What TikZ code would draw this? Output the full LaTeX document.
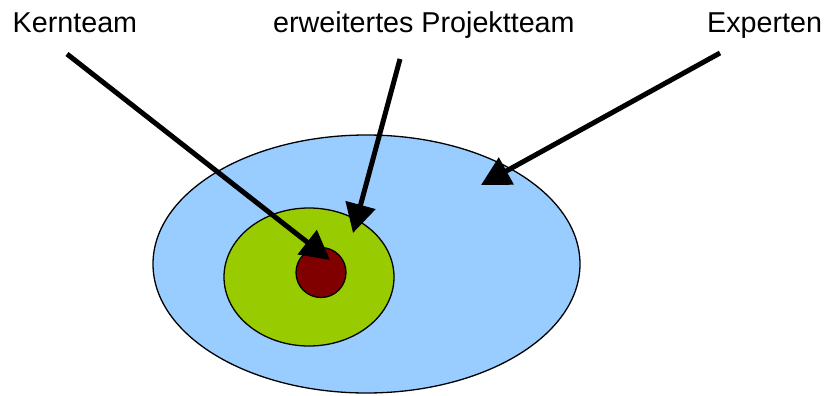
\documentclass[tikz,border=0pt]{standalone}
\usepackage{fontspec}
\setmainfont{Liberation Sans}
\usetikzlibrary{arrows.meta,shapes.geometric}
\definecolor{outerblue}{HTML}{99CCFF}
\definecolor{midgreen}{HTML}{99CC00}
\definecolor{corered}{HTML}{800000}
\begin{document}
\begin{tikzpicture}[x=1pt,y=-1pt,
  lbl/.style={anchor=base west,inner sep=0pt,font=\fontsize{28.7}{34}\selectfont},
  ring/.style={draw=black,line width=1.3pt,ellipse,inner sep=0pt},
  pointer/.style={line width=5pt,-{Triangle[length=29pt,width=30pt]}}]
\useasboundingbox (0,0) rectangle (828,396);
\fill[white] (0,0) rectangle (828,396);
% ellipses
\node[ring,fill=outerblue,minimum width=427pt,minimum height=258pt] (outer) at (366.5,264) {};
\node[ring,fill=midgreen,minimum width=170pt,minimum height=138pt] (mid) at (309,277) {};
\node[ring,fill=corered,minimum width=50pt,minimum height=50pt] (core) at (321,272.5) {};
\coordinate (kt) at (330,260);
\coordinate (pt) at (353,233);
\coordinate (et) at (481,185);
% labels
\node[lbl] (kern) at (12.5,33) {Kernteam};
\node[lbl] (proj) at (273,33) {erweitertes Projektteam};
\node[lbl] (exp) at (707,33) {Experten};
\coordinate (ks) at (67,54);
\coordinate (ps) at (400,59);
\coordinate (es) at (720,53);
% arrows
\draw[pointer] (ks) -- (kt);
\draw[pointer] (ps) -- (pt);
\draw[pointer] (es) -- (et);
\end{tikzpicture}
\end{document}
